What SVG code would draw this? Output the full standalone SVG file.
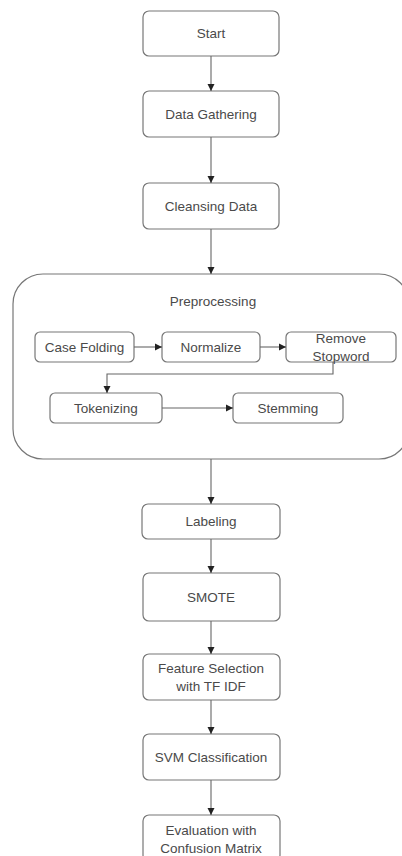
<svg xmlns="http://www.w3.org/2000/svg" width="402" height="856" viewBox="0 0 402 856">
<defs>
<marker id="ah" markerWidth="8" markerHeight="8" refX="7" refY="4" orient="auto" markerUnits="userSpaceOnUse">
<path d="M0,0.5 L7,4 L0,7.5 Z" fill="#222"/>
</marker>
</defs>
<style>
.box{fill:#fff;stroke:#777;stroke-width:1.2}
.t{font-family:"Liberation Sans",Arial,sans-serif;font-size:13.5px;fill:#4a4a4a;text-anchor:middle}
.c{fill:none;stroke:#666;stroke-width:1.1;marker-end:url(#ah)}
</style>
<rect width="402" height="856" fill="#fff"/>
<g id="preprocessing">
<rect class="box" x="13" y="274" width="396" height="185" rx="30"/>
<text class="t" x="213" y="306">Preprocessing</text>
</g>
<g id="start"><rect class="box" x="143" y="11" width="136" height="45" rx="6"/><text class="t" x="211" y="38">Start</text></g>
<g id="gathering"><rect class="box" x="143" y="91" width="136" height="46" rx="6"/><text class="t" x="211" y="119">Data Gathering</text></g>
<g id="cleansing"><rect class="box" x="143" y="183" width="136" height="46" rx="6"/><text class="t" x="211" y="211">Cleansing Data</text></g>
<g id="casefolding"><rect class="box" x="35" y="332" width="99" height="30" rx="5"/><text class="t" x="84.5" y="352">Case Folding</text></g>
<g id="normalize"><rect class="box" x="162" y="332" width="98" height="30" rx="5"/><text class="t" x="211" y="352">Normalize</text></g>
<g id="stopword"><rect class="box" x="286" y="332" width="110" height="30" rx="5"/><text class="t" x="341" y="343">Remove</text><text class="t" x="341" y="361">Stopword</text></g>
<g id="tokenizing"><rect class="box" x="50" y="393" width="112" height="30" rx="5"/><text class="t" x="106" y="413">Tokenizing</text></g>
<g id="stemming"><rect class="box" x="233" y="393" width="110" height="30" rx="5"/><text class="t" x="288" y="413">Stemming</text></g>
<g id="labeling"><rect class="box" x="142" y="504" width="138" height="35" rx="6"/><text class="t" x="211" y="526">Labeling</text></g>
<g id="smote"><rect class="box" x="143" y="573" width="137" height="48" rx="6"/><text class="t" x="211" y="602">SMOTE</text></g>
<g id="feature"><rect class="box" x="143" y="654" width="137" height="46" rx="6"/><text class="t" x="211" y="673">Feature Selection</text><text class="t" x="211" y="691">with TF IDF</text></g>
<g id="svm"><rect class="box" x="143" y="734" width="137" height="46" rx="6"/><text class="t" x="211" y="762">SVM Classification</text></g>
<g id="evaluation"><rect class="box" x="143" y="815" width="137" height="46" rx="6"/><text class="t" x="211" y="835">Evaluation with</text><text class="t" x="211" y="853">Confusion Matrix</text></g>
<g id="connectors">
<path class="c" d="M211,56 V91"/>
<path class="c" d="M211,137 V183"/>
<path class="c" d="M211,229 V274"/>
<path class="c" d="M134,347 H162"/>
<path class="c" d="M260,347 H286"/>
<path class="c" d="M333,362 V374 H107 V393"/>
<path class="c" d="M162,408 H233"/>
<path class="c" d="M211,459 V504"/>
<path class="c" d="M211,539 V573"/>
<path class="c" d="M211,621 V654"/>
<path class="c" d="M211,700 V734"/>
<path class="c" d="M211,780 V815"/>
</g>
</svg>
